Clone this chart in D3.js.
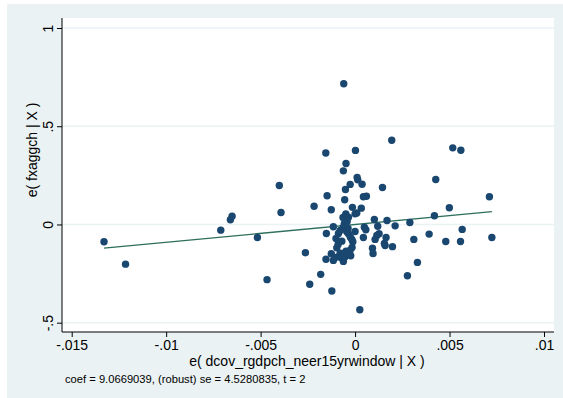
<!DOCTYPE html>
<html>
<head>
<meta charset="utf-8">
<script src="https://cdn.jsdelivr.net/npm/d3@7"></script>
<style>
  body { margin: 0; background: #fff; }
  text { font-family: "Liberation Sans", Arial, sans-serif; }
</style>
</head>
<body>
<div id="chart"></div>
<script>
// residuals
const xVals = [-0.01329, -0.01215, -0.00711, -0.00660, -0.00651, -0.00517, -0.00466, -0.00401, -0.00392, -0.00263,
  -0.00240, -0.00217, -0.00182, -0.00155, -0.00148, -0.00152, -0.00154, -0.00060, 0.00194, 0.00517,
  0.00560, 0.00002, -0.00048, -0.00062, 0.00011, 0.00014, 0.00037, -0.00026, -0.00051, 0.00427,
  0.00145, -0.00055, 0.00044, 0.00060, 0.00711, -0.00126, -0.00014, 0.00033, 0.00499, -0.00049,
  0.00000, 0.00009, -0.00035, 0.00420, 0.00102, 0.00169, 0.00290, -0.00057, -0.00062, -0.00115,
  0.00212, 0.00049, 0.00057, 0.00120, 0.00567, -0.00088, -0.00044, -0.00035, 0.00392, 0.00127,
  0.00115, -0.00025, -0.00017, 0.00044, 0.00164, 0.00724, 0.00311, 0.00106, -0.00070, -0.00012,
  0.00480, 0.00558, 0.00155, 0.00159, 0.00198, -0.00097, 0.00092, -0.00026, -0.00048, -0.00079,
  -0.00062, -0.00126, 0.00095, -0.00023, -0.00053, -0.00097, -0.00073, -0.00115, -0.00062, 0.00330,
  0.00277, -0.00123, 0.00025, -0.00064, -0.00042, -0.00079, -0.00101, -0.00037, -0.00016, -0.00090,
  0.00000];
const yVals = [-0.088, -0.202, -0.029, 0.024, 0.042, -0.066, -0.281, 0.198, 0.061, -0.144,
  -0.304, 0.093, -0.254, 0.364, 0.146, -0.046, -0.177, 0.716, 0.429, 0.390,
  0.378, 0.377, 0.310, 0.273, 0.239, 0.227, 0.205, 0.204, 0.178, 0.229,
  0.188, 0.126, 0.141, 0.144, 0.141, 0.075, 0.087, 0.083, 0.085, 0.054,
  0.054, 0.058, 0.037, 0.044, 0.025, 0.020, 0.010, 0.004, -0.014, -0.012,
  -0.007, -0.014, -0.027, -0.009, -0.025, -0.046, -0.037, -0.047, -0.049, -0.047,
  -0.056, -0.065, -0.076, -0.066, -0.066, -0.066, -0.076, -0.076, -0.085, -0.088,
  -0.087, -0.087, -0.097, -0.107, -0.113, -0.119, -0.121, -0.131, -0.136, -0.146,
  -0.149, -0.149, -0.148, -0.159, -0.164, -0.166, -0.169, -0.183, -0.188, -0.193,
  -0.261, -0.339, -0.434, 0.036, 0.015, -0.031, -0.071, -0.020, -0.117, -0.102,
  -0.036];

const xTicks = [-0.015, -0.01, -0.005, 0, 0.005, 0.01];
const xTickLabels = ["-.015", "-.01", "-.005", "0", ".005", ".01"];
const yTicks = [-0.5, 0, 0.5, 1];
const yTickLabels = ["-.5", "0", ".5", "1"];

const coef = 9.0669039;
const fitIntercept = 0;
const xTitle = "e( dcov_rgdpch_neer15yrwindow | X )";
const yTitle = "e( fxaggch | X )";
const note = "coef = 9.0669039, (robust) se = 4.5280835, t = 2";

const width = 563, height = 398;
const plot = { left: 62, right: 554, top: 18, bottom: 332 };

const svg = d3.select("#chart").append("svg")
  .attr("width", width)
  .attr("height", height);

// graph background
svg.append("rect")
  .attr("x", 7).attr("y", 4)
  .attr("width", width - 7).attr("height", height - 4)
  .attr("fill", "#eaf2f3");

svg.append("rect")
  .attr("x", plot.left).attr("y", plot.top)
  .attr("width", plot.right - plot.left).attr("height", plot.bottom - plot.top)
  .attr("fill", "#ffffff");

const xScale = d3.scaleLinear()
  .domain([-0.015, 0.01])
  .range([71.7, 544]);

const yScale = d3.scaleLinear()
  .domain([-0.5, 1])
  .range([322.7, 28]);

// gridlines
svg.append("g")
  .selectAll("line")
  .data(yTicks)
  .enter().append("line")
  .attr("x1", plot.left).attr("x2", plot.right)
  .attr("y1", d => yScale(d)).attr("y2", d => yScale(d))
  .attr("stroke", "#eaf2f3")
  .attr("stroke-width", 1.5);

// axes
const xAxis = d3.axisBottom(xScale)
  .tickValues(xTicks)
  .tickFormat((d, i) => xTickLabels[i])
  .tickSize(5)
  .tickPadding(3);

const yAxis = d3.axisLeft(yScale)
  .tickValues(yTicks)
  .tickFormat((d, i) => yTickLabels[i])
  .tickSize(5)
  .tickPadding(3);

const gx = svg.append("g")
  .attr("transform", `translate(0,${plot.bottom})`)
  .call(xAxis);
gx.select(".domain").attr("d", `M${plot.left},0H${plot.right}`);

const gy = svg.append("g")
  .attr("transform", `translate(${plot.left},0)`)
  .call(yAxis);
gy.select(".domain").attr("d", `M0,${plot.top}V${plot.bottom}`);

[gx, gy].forEach(g => {
  g.select(".domain").attr("stroke", "#000").attr("stroke-width", 1);
  g.selectAll(".tick line").attr("stroke", "#000");
  g.selectAll(".tick text")
    .attr("fill", "#000")
    .style("font-size", "14px")
    .style("font-family", "'Liberation Sans', Arial, sans-serif");
});

gy.selectAll(".tick text")
  .attr("transform", "rotate(-90)")
  .attr("x", 0)
  .attr("y", -9)
  .attr("dy", "0")
  .style("text-anchor", "middle");

// fitted line
const fitData = d3.extent(xVals).map(x => ({ x: x, y: fitIntercept + coef * x }));
svg.append("path")
  .datum(fitData)
  .attr("d", d3.line().x(d => xScale(d.x)).y(d => yScale(d.y)))
  .attr("stroke", "#2e6e5c")
  .attr("stroke-width", 1.3)
  .attr("fill", "none");

// points
svg.append("g")
  .selectAll("circle")
  .data(xVals.map((x, i) => ({ x: x, y: yVals[i] })))
  .enter().append("circle")
  .attr("cx", d => xScale(d.x))
  .attr("cy", d => yScale(d.y))
  .attr("r", 3.7)
  .attr("fill", "#1a476f");

// axis titles
svg.append("text")
  .attr("x", 307)
  .attr("y", 366)
  .style("text-anchor", "middle")
  .style("font-size", "14px")
  .text(xTitle);

svg.append("text")
  .attr("transform", "rotate(-90)")
  .attr("x", -150)
  .attr("y", 37)
  .style("text-anchor", "middle")
  .style("font-size", "14px")
  .text(yTitle);

svg.append("text")
  .attr("x", 65)
  .attr("y", 383)
  .style("font-size", "11.2px")
  .text(note);
</script>
</body>
</html>
